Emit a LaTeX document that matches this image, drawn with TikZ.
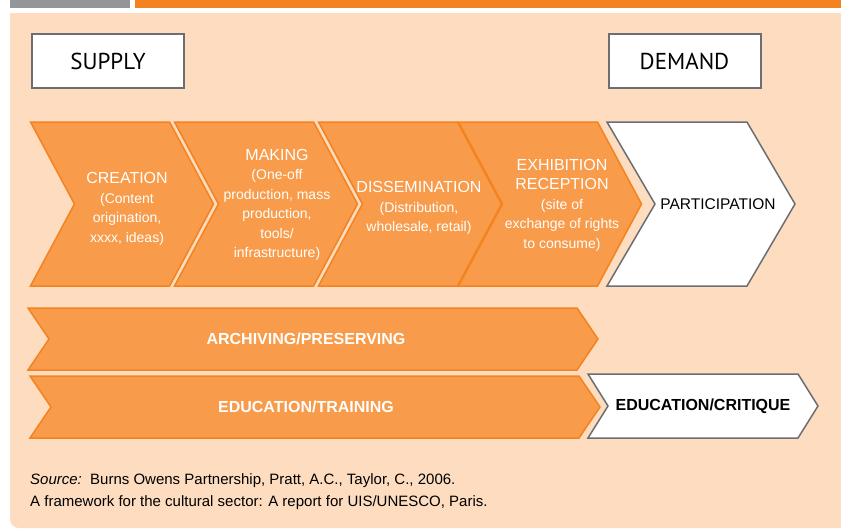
\documentclass[tikz,border=0pt]{standalone}
\usepackage{fontspec}
\setmainfont{Liberation Sans}
\newfontfamily\headfont{PT Sans}
\usetikzlibrary{shapes.symbols}

\definecolor{peach}{HTML}{FDDCBF}
\definecolor{chevfill}{HTML}{F89B4A}
\definecolor{chevline}{HTML}{F4831F}
\definecolor{topbar}{HTML}{F58220}
\definecolor{greybar}{HTML}{939598}
\definecolor{greyline}{HTML}{6D6E71}

\begin{document}
\begin{tikzpicture}[x=1pt, y=-1pt,
    every node/.style={inner sep=0pt, text centered},
    chev/.style={shape=signal, signal from=west, signal to=east, draw=chevline, fill=chevfill,
        line width=1.5pt, minimum width=183pt, minimum height=164pt, signal pointer angle=123.6},
    whitechev/.style={chev, draw=greyline, fill=white, minimum width=188pt, signal pointer angle=119.3},
    bar/.style={chev, minimum width=570pt, minimum height=62pt, signal pointer angle=111.8},
    whitebar/.style={bar, draw=greyline, fill=white, minimum width=230pt, minimum height=64pt,
        signal pointer angle=116},
    chevtext/.style={text=white, align=center, font=\fontsize{14}{19.5}\selectfont},
    bartext/.style={font=\fontsize{16}{19}\selectfont\bfseries},
    headbox/.style={draw=greyline, fill=white, line width=2pt, minimum width=152pt,
        minimum height=54pt, font=\headfont\fontsize{23}{23}\selectfont},
    note/.style={anchor=base west, font=\fontsize{15}{22}\selectfont}]
\useasboundingbox (0,0) rectangle (841,531);
\fill[white] (0,0) rectangle (841,531);
% top strip and panel
\fill[greybar] (10,0) rectangle (130,8);
\fill[topbar] (135,0) rectangle (841,8);
\fill[peach] (841,13) -- (10,13) [rounded corners=9pt] -- (10,528) [sharp corners] -- (841,528) -- cycle;

\node[headbox] (supply) at (108,61) {SUPPLY};
\node[headbox] (demand) at (684.5,61) {DEMAND};

% value chain
\node[chev] (creation) at (122,204) {};
\node[chev] (making) at (266,204) {};
\node[chev] (dissemination) at (410,204) {};
\node[chev] (exhibition) at (550,204) {};
\node[whitechev] (participation) at (701,204) {};

\node[chevtext] (creationtxt) at ([xshift=5pt, yshift=-5pt]creation.center)
    {{\fontsize{16}{19.5}\selectfont CREATION}\\(Content\\origination,\\xxxx, ideas)};
\node[chevtext] (makingtxt) at ([xshift=11pt, yshift=-1pt]making.center)
    {{\fontsize{16}{19.5}\selectfont MAKING}\\(One-off\\production, mass\\production,\\tools/\\infrastructure)};
\node[chevtext] (disseminationtxt) at ([xshift=9pt, yshift=-4pt]dissemination.center)
    {{\fontsize{16}{19.5}\selectfont DISSEMINATION}\\(Distribution,\\wholesale, retail)};
\node[chevtext] (exhibitiontxt) at ([xshift=12pt, yshift=-1pt]exhibition.center)
    {{\fontsize{16}{19.5}\selectfont EXHIBITION}\\{\fontsize{16}{19.5}\selectfont RECEPTION}\\(site of\\exchange of rights\\to consume)};
\node[font=\fontsize{15.5}{19}\selectfont] (participationtxt) at ([xshift=17pt]participation.center) {PARTICIPATION};

% cross-cutting bars
\node[bar] (archiving) at (313,339) {};
\node[bar] (training) at (315,407) {};
\node[whitebar, bartext] (critique) at (703,406) {EDUCATION/CRITIQUE};
\node[bartext, text=white] (archivingtxt) at ([xshift=-7pt]archiving.center) {ARCHIVING/PRESERVING};
\node[bartext, text=white] (trainingtxt) at ([xshift=-9pt]training.center) {EDUCATION/TRAINING};

% source
\node[note] (source) at (30,484) {\textit{Source:}\ \ Burns Owens Partnership, Pratt, A.C., Taylor, C., 2006.};
\node[note] (reference) at (30,506) {A framework for the cultural sector: A report for UIS/UNESCO, Paris.};
\end{tikzpicture}
\end{document}
